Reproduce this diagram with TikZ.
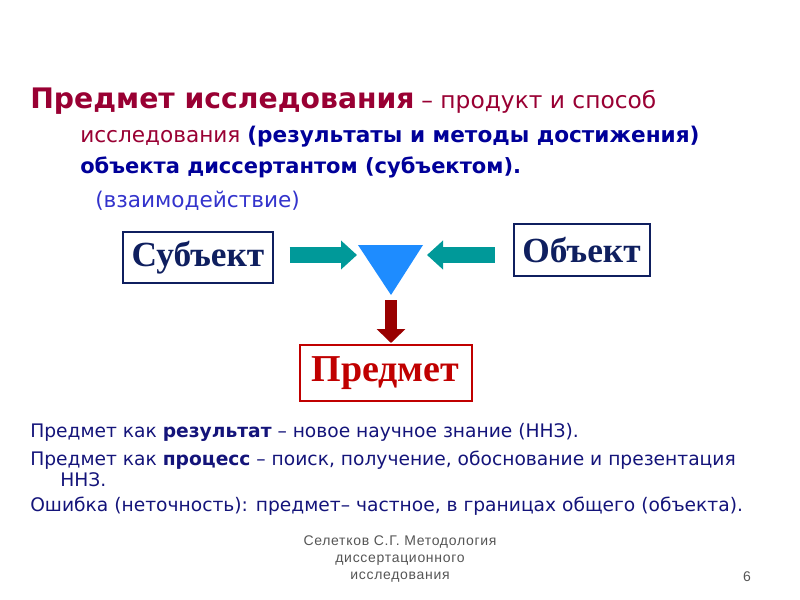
\documentclass[tikz,border=0pt]{standalone}
\usepackage{fontspec}
\setmainfont{Liberation Serif}
\setsansfont{Liberation Sans}
\newfontfamily\dejavu{DejaVu Sans}
\newfontfamily\footfont[LetterSpace=5]{Liberation Sans}
\usetikzlibrary{arrows.meta,positioning}
\definecolor{titlered}{HTML}{990033}
\definecolor{navy}{HTML}{000099}
\definecolor{violet}{HTML}{3333CC}
\definecolor{boxnavy}{HTML}{0F1F5F}
\definecolor{tealarr}{HTML}{009999}
\definecolor{triblue}{HTML}{1E8CFF}
\definecolor{darkred}{HTML}{990000}
\definecolor{boxred}{HTML}{C00000}
\definecolor{bodynavy}{HTML}{14147A}
\definecolor{footgray}{HTML}{555555}
\tikzset{
  line/.style={anchor=base west, inner sep=0pt},
  head/.style={line, font=\dejavu\fontsize{16.2}{20}\selectfont},
  body/.style={line, text=bodynavy, font=\dejavu\fontsize{14}{17}\selectfont},
  term/.style={draw, line width=1.5pt, inner xsep=5pt, inner ysep=0pt, minimum height=38.5pt, font=\bfseries\fontsize{26.5}{30}\selectfont},
  flow/.style={draw=tealarr, line width=12pt, -{Triangle[length=12pt,width=21pt]}},
  down/.style={draw=darkred, line width=9.5pt, -{Triangle[length=10.5pt,width=21pt]}},
  foot/.style={text=footgray, font=\footfont\fontsize{10.5}{13}\selectfont, align=center},
}
\begin{document}
\begin{tikzpicture}[x=0.75pt,y=-0.75pt]
\useasboundingbox (0,0) rectangle (800,600);
% heading
\node[head, text=titlered] (h1) at (30,108) {{\bfseries\fontsize{21.2}{26}\selectfont Предмет исследования} {\fontsize{17.5}{20}\selectfont – продукт и способ}};
\node[head] (h2) at (80,142) {\textcolor{titlered}{исследования} \textcolor{navy}{\bfseries(результаты и методы достижения)}};
\node[head, text=navy, font=\dejavu\bfseries\fontsize{15.75}{20}\selectfont] (h3) at (80,173) {объекта диссертантом (субъектом).};
\node[head, text=violet] (h4) at (95,207) {(взаимодействие)};

% subject, object, result
\node[term, draw=boxnavy, text=boxnavy, minimum width=112pt] (subj) at (198,257.5) {Субъект};
\node[term, draw=boxnavy, text=boxnavy, minimum width=102pt] (obj) at (581.5,250) {Объект};
\node[term, draw=boxred, text=boxred, minimum width=129pt, minimum height=42pt, font=\bfseries\fontsize{28.5}{32}\selectfont] (pred) at (385.5,373) {Предмет};

\coordinate (tl) at (358,245);
\coordinate (tr) at (423,245);
\coordinate (tb) at (391,295);
\fill[triblue] (tl) -- (tr) -- (tb) -- cycle;

\coordinate (inl) at (357,255);
\coordinate (inr) at (427,255);
\draw[flow, shorten <=12pt] (subj.east |- inl) -- (inl);
\draw[flow, shorten <=13.5pt] (obj.west |- inr) -- (inr);
\draw[down, shorten <=3.75pt, shorten >=0.75pt] (tb) -- (tb |- pred.north);

% notes
\node[body] (n1) at (30,437) {Предмет как \textbf{результат} – новое научное знание (ННЗ).};
\node[body] (n2) at (30,465) {Предмет как \textbf{процесс} – поиск, получение, обоснование и презентация};
\node[body] (n3) at (60,486) {ННЗ.};
\node[body] (n4) at (30,511) {Ошибка (неточность): предмет– частное, в границах общего (объекта).};

% footer
\node[foot] (src) at (400,559) {Селетков С.Г. Методология\\диссертационного\\исследования};
\node[foot, anchor=base] (pg) at (747,581) {6};
\end{tikzpicture}
\end{document}
